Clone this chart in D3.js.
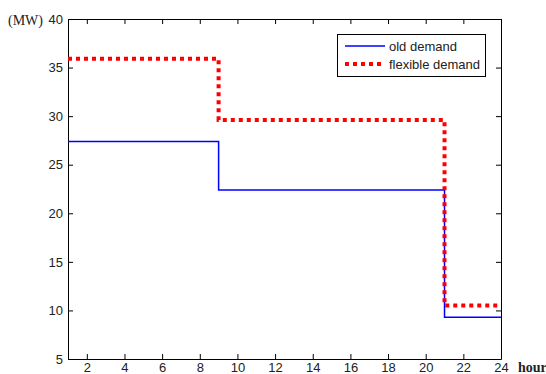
<!DOCTYPE html>
<html>
<head>
<meta charset="utf-8">
<script src="https://cdn.jsdelivr.net/npm/d3@7"></script>
<style>
body { margin: 0; background: #fff; }
svg text { font-family: "Liberation Sans", Arial, sans-serif; font-size: 13px; fill: #222; }
</style>
</head>
<body>
<svg id="chart" width="546" height="374"></svg>
<script>
// step data: [hour, MW]
var oldDemand = [[1, 27.4], [9, 27.4], [9, 22.4], [21, 22.4], [21, 9.3], [24, 9.3]];
var flexDemand = [[1, 35.9], [9, 35.9], [9, 29.6], [21, 29.6], [21, 10.5], [24, 10.5]];
var xTicks = [2, 4, 6, 8, 10, 12, 14, 16, 18, 20, 22, 24];
var yTicks = [5, 10, 15, 20, 25, 30, 35, 40];
var seriesNames = ["old demand", "flexible demand"];

var svg = d3.select("#chart");
var mLeft = 68, mRight = 501, mTop = 19, mBottom = 359;

var x = d3.scaleLinear().domain([1, 24]).range([mLeft, mRight]);
var y = d3.scaleLinear().domain([5, 40]).range([mBottom, mTop]);

var line = d3.line()
    .x(function(d) { return x(d[0]); })
    .y(function(d) { return y(d[1]); });

// axes, MATLAB style with inward ticks on all sides
svg.append("g")
    .attr("transform", "translate(0," + mBottom + ")")
    .call(d3.axisBottom(x).tickValues(xTicks).tickSizeInner(-5).tickSizeOuter(0).tickPadding(4));
svg.append("g")
    .attr("transform", "translate(0," + mTop + ")")
    .call(d3.axisTop(x).tickValues(xTicks).tickSizeInner(-5).tickSizeOuter(0).tickFormat(""));
svg.append("g")
    .attr("transform", "translate(" + mLeft + ",0)")
    .call(d3.axisLeft(y).tickValues(yTicks).tickSizeInner(-5).tickSizeOuter(0).tickPadding(5));
svg.append("g")
    .attr("transform", "translate(" + mRight + ",0)")
    .call(d3.axisRight(y).tickValues(yTicks).tickSizeInner(-5).tickSizeOuter(0).tickFormat(""));

svg.selectAll(".domain").attr("stroke", "#000");
svg.selectAll(".tick line").attr("stroke", "#000");
svg.selectAll(".tick text").style("font-size", "13px").attr("fill", "#222")
    .style("font-family", "'Liberation Sans', Arial, sans-serif");

svg.append("path")
    .datum(oldDemand)
    .attr("d", line)
    .attr("fill", "none")
    .attr("stroke", "#0000ff")
    .attr("stroke-width", 1.5);

svg.append("path")
    .datum(flexDemand)
    .attr("d", line)
    .attr("fill", "none")
    .attr("stroke", "#ff0000")
    .attr("stroke-width", 4)
    .attr("stroke-dasharray", "4,4");

// legend
var lg = svg.append("g");
lg.append("rect")
    .attr("x", 337.5).attr("y", 34.5).attr("width", 148).attr("height", 42)
    .attr("fill", "#fff").attr("stroke", "#000");
var colors = ["#0000ff", "#ff0000"];
seriesNames.forEach(function(name, i) {
    var ly = 46 + i * 18;
    lg.append("line")
        .attr("x1", 345).attr("x2", 385).attr("y1", ly).attr("y2", ly)
        .attr("stroke", colors[i])
        .attr("stroke-width", i == 0 ? 1.5 : 4)
        .attr("stroke-dasharray", i == 0 ? null : "4,4");
    lg.append("text")
        .attr("x", 389).attr("y", ly + 5)
        .text(name);
});

svg.append("text")
    .attr("x", 8).attr("y", 25)
    .style("font-family", "'Liberation Serif', 'Times New Roman', serif")
    .style("font-size", "14px")
    .text("(MW)");
svg.append("text")
    .attr("x", 518).attr("y", 372)
    .style("font-family", "'Liberation Serif', 'Times New Roman', serif")
    .style("font-size", "14px")
    .style("font-weight", "bold")
    .text("hour");
</script>
</body>
</html>
